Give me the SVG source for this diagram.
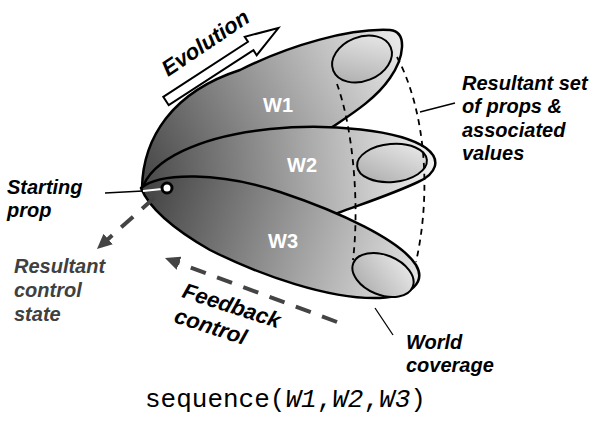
<svg xmlns="http://www.w3.org/2000/svg" width="596" height="424" viewBox="0 0 596 424">
<defs>
<linearGradient id="g1" gradientUnits="userSpaceOnUse" x1="150" y1="180" x2="400" y2="45"><stop offset="0" stop-color="#4a4a4a"/><stop offset="1" stop-color="#e8e8e8"/></linearGradient>
<linearGradient id="g2" gradientUnits="userSpaceOnUse" x1="145" y1="185" x2="435" y2="160"><stop offset="0" stop-color="#4a4a4a"/><stop offset="1" stop-color="#f2f2f2"/></linearGradient>
<linearGradient id="g3" gradientUnits="userSpaceOnUse" x1="145" y1="195" x2="420" y2="285"><stop offset="0" stop-color="#444444"/><stop offset="1" stop-color="#e6e6e6"/></linearGradient>
<linearGradient id="gi" x1="0" y1="1" x2="1" y2="0"><stop offset="0" stop-color="#a8a8a8"/><stop offset="1" stop-color="#eeeeee"/></linearGradient>
<marker id="ah" markerUnits="userSpaceOnUse" markerWidth="15" markerHeight="14" refX="1" refY="7" orient="auto" viewBox="0 0 15 14"><path d="M0,0 L15,7 L0,14 Z" fill="#444"/></marker>
</defs>
<style>
.petal{stroke:#000;stroke-width:2.5;stroke-linejoin:round}
.inner{fill:url(#gi);stroke:#000;stroke-width:2}
.wl{font-family:"Liberation Sans",Arial,sans-serif;font-weight:bold;font-size:20px;fill:#fff}
.lbl{font-family:"Liberation Sans",Arial,sans-serif;font-weight:bold;font-style:italic;font-size:20px;fill:#000}
.big{font-size:22px}
.grey{fill:#404040}
.dash{fill:none;stroke:#000;stroke-width:1.8;stroke-dasharray:6 5}
.ptr{fill:none;stroke:#000;stroke-width:1.3}
.fb{fill:none;stroke:#444;stroke-width:4;stroke-dasharray:16 12;marker-end:url(#ah)}
.mono{font-family:"Liberation Mono","Courier New",monospace;font-size:26px;fill:#000}
</style>

<g id="W1">
<path class="petal" fill="url(#g1)" d="M142,188 C143,138 172,92 240,70 C290,45 350,28 390,30 C408,32 404,58 390,78 C375,100 350,115 328,130 L300,150 C250,170 190,185 142,188 Z"/>
<ellipse class="inner" cx="362" cy="59" rx="31" ry="22" transform="rotate(-22 362 59)"/>
<text class="wl" x="263" y="112">W1</text>
</g>

<g id="W2">
<path class="petal" fill="url(#g2)" d="M142,190 C150,160 200,136 270,129 C330,123 400,130 426,148 C442,160 436,174 418,182 C395,193 365,203 338,213 C300,225 250,215 210,205 C180,198 155,193 142,190 Z"/>
<ellipse class="inner" cx="392" cy="163" rx="35" ry="19" transform="rotate(-5 392 163)"/>
<text class="wl" x="287" y="172">W2</text>
</g>

<g id="W3">
<path class="petal" fill="url(#g3)" d="M141,188 C160,172 220,172 280,192 C340,212 400,240 416,265 C426,282 412,296 380,298 C330,300 260,275 210,250 C175,230 150,210 141,188 Z"/>
<ellipse class="inner" cx="383" cy="275" rx="32" ry="20" transform="rotate(22 383 275)"/>
<text class="wl" x="268" y="248">W3</text>
</g>

<g id="connectors">
<path class="dash" d="M337,84 C352,125 360,200 353,260"/>
<path class="dash" d="M397,57 C425,110 432,190 416,262"/>
<line class="ptr" x1="420" y1="112" x2="455" y2="103"/>
<line class="ptr" x1="375" y1="308" x2="393" y2="335"/>
<line class="ptr" x1="105" y1="193" x2="143" y2="191"/>
<line fill="none" stroke="#fff" stroke-width="2" x1="143" y1="191" x2="162" y2="189"/>
<line class="fb" x1="154" y1="198" x2="107.4" y2="239.7"/>
<line class="fb" x1="337" y1="322" x2="178.1" y2="262.9"/>
</g>

<g id="start">
<circle cx="167" cy="188" r="5" fill="#fff" stroke="#000" stroke-width="3"/>
</g>

<g id="evolution">
<polygon points="0,-5 101,-5 101,-11 134,0 101,11 101,5 0,5" fill="#fff" stroke="#000" stroke-width="2" stroke-linejoin="miter" transform="translate(166 101) rotate(-33)"/>
<text class="lbl big" transform="translate(168 77) rotate(-34)">Evolution</text>
</g>

<g id="labels">
<text class="lbl" x="7" y="194">Starting</text>
<text class="lbl" x="7" y="217">prop</text>
<text class="lbl grey" x="14" y="273">Resultant</text>
<text class="lbl grey" x="14" y="297">control</text>
<text class="lbl grey" x="14" y="321">state</text>
<text class="lbl" x="462" y="90">Resultant set</text>
<text class="lbl" x="462" y="113">of props &amp;</text>
<text class="lbl" x="462" y="137">associated</text>
<text class="lbl" x="462" y="160">values</text>
<text class="lbl" x="406" y="349">World</text>
<text class="lbl" x="406" y="372">coverage</text>
<text class="lbl big" transform="translate(181 297) rotate(18)">Feedback</text>
<text class="lbl big" transform="translate(173 322) rotate(18)">control</text>
</g>

<g id="caption">
<text class="mono" x="145" y="407">sequence(<tspan font-style="italic">W1</tspan>,<tspan font-style="italic">W2</tspan>,<tspan font-style="italic">W3</tspan>)</text>
</g>
</svg>
